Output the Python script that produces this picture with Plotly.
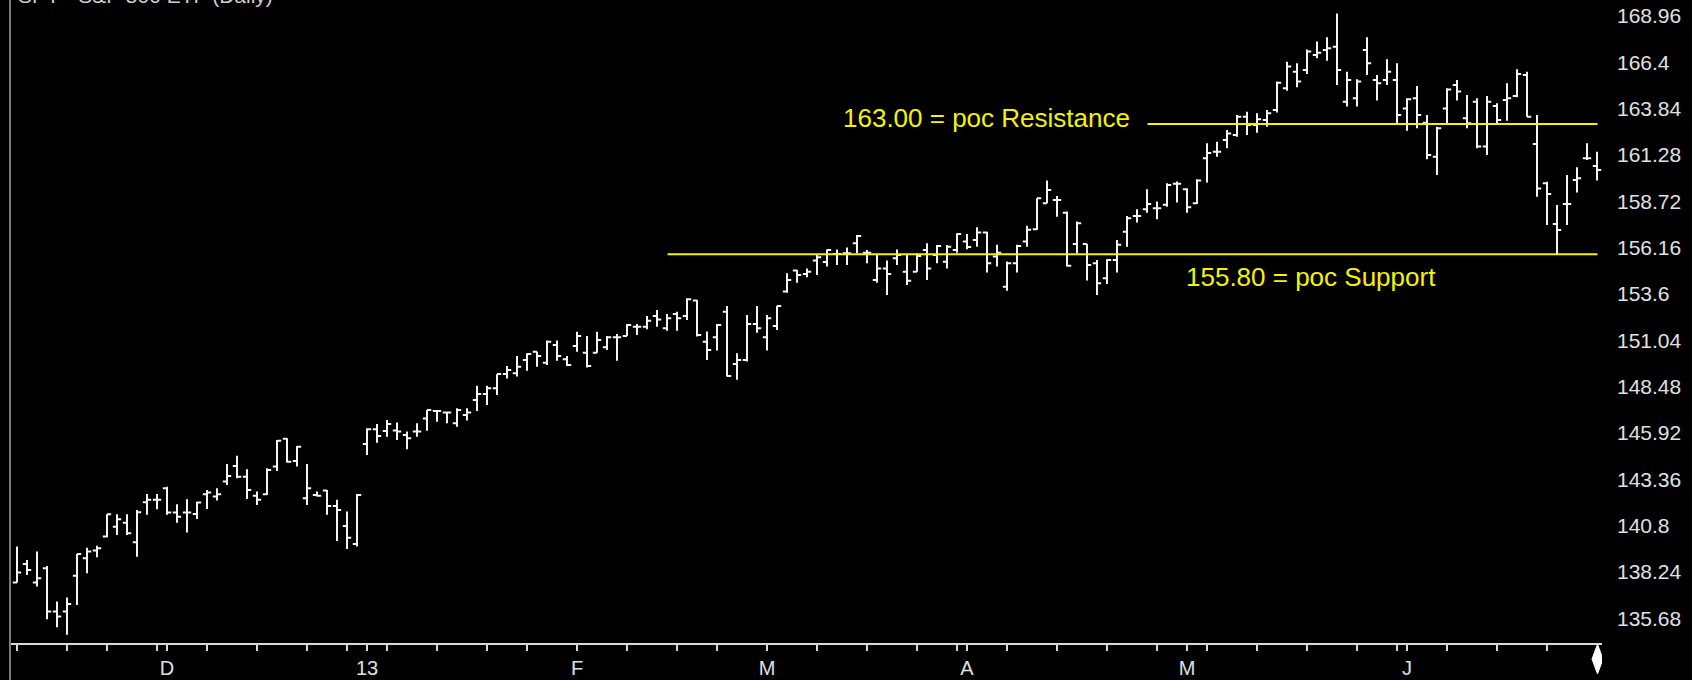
import plotly.graph_objects as go

# ---- data (x = trading-day index, Nov 9 2012 .. Jun 28 2013) ----
opens = [137.66, 138.69, 137.66, 138.45, 136.06, 136.06, 138.03, 139.00, 139.43, 140.20,
         140.75, 140.97, 139.89, 142.10, 142.23, 142.87, 141.53, 141.53, 141.45, 142.54,
         142.41, 143.24, 144.10, 143.51, 142.45, 142.54, 144.07, 145.61, 144.38, 142.32,
         142.50, 142.74, 141.89, 140.79, 139.79, 145.32, 146.13, 146.04, 146.06, 145.82,
         146.00, 146.73, 147.14, 147.05, 146.46, 146.92, 147.75, 148.08, 148.39, 149.18,
         149.22, 149.96, 150.42, 149.81, 150.79, 150.00, 150.73, 150.36, 150.36, 150.66,
         151.21, 151.28, 151.80, 151.80, 152.39, 151.71, 152.50, 152.39, 153.24, 150.97,
         151.21, 152.63, 149.74, 149.96, 151.95, 151.21, 151.84, 153.74, 154.90, 154.71,
         155.45, 155.37, 155.82, 155.85, 156.41, 155.89, 154.38, 155.02, 155.58, 154.84,
         154.84, 156.04, 155.76, 155.39, 156.04, 156.50, 156.59, 157.00, 155.67, 154.01,
         155.30, 156.50, 157.18, 158.62, 158.80, 158.10, 156.37, 156.37, 155.30, 154.47,
         155.49, 157.05, 157.92, 158.29, 158.34, 158.53, 159.69, 159.39, 158.62, 161.10,
         161.47, 162.12, 162.39, 163.40, 162.94, 163.22, 163.77, 164.97, 165.89, 165.98,
         166.81, 167.09, 167.27, 164.23, 164.42, 167.09, 165.43, 165.43, 165.43, 163.86,
         164.42, 163.07, 161.19, 163.86, 165.15, 163.31, 164.23, 161.75, 163.99, 164.33,
         164.55, 165.71, 161.89, 159.72, 157.47, 158.58, 159.91, 161.10, 160.68]
highs = [139.65, 138.91, 139.37, 138.58, 136.61, 136.83, 139.24, 139.59, 139.70, 141.43,
         141.43, 141.43, 141.67, 142.56, 142.56, 142.96, 141.99, 142.26, 142.13, 142.78,
         142.87, 144.21, 144.66, 143.92, 142.69, 143.97, 145.54, 145.63, 145.21, 144.21,
         142.69, 142.78, 142.23, 141.58, 142.56, 146.18, 146.42, 146.64, 146.50, 146.00,
         146.46, 147.20, 147.20, 147.10, 147.29, 147.29, 148.54, 148.54, 149.18, 149.63,
         150.18, 150.33, 150.42, 151.03, 151.03, 150.18, 151.52, 151.28, 151.52, 151.28,
         151.39, 151.95, 151.95, 152.39, 152.72, 152.50, 152.63, 153.37, 153.27, 151.53,
         151.95, 152.94, 150.33, 152.45, 152.94, 152.45, 152.94, 154.75, 154.93, 155.02,
         155.76, 156.07, 156.07, 156.17, 156.87, 156.04, 155.82, 155.45, 156.07, 155.82,
         155.85, 156.41, 156.31, 156.31, 156.96, 156.92, 157.29, 157.05, 156.32, 155.40,
         156.32, 157.37, 158.89, 159.87, 159.02, 158.16, 157.61, 156.37, 155.49, 155.52,
         156.59, 157.92, 158.29, 159.39, 158.71, 159.72, 159.82, 159.45, 159.94, 161.93,
         162.02, 162.67, 163.50, 163.68, 163.59, 163.77, 165.34, 166.44, 166.35, 167.12,
         167.55, 167.79, 169.11, 165.89, 165.47, 167.79, 165.71, 166.57, 166.35, 164.42,
         165.10, 163.50, 162.85, 164.97, 165.43, 164.60, 164.42, 164.55, 164.14, 165.25,
         166.02, 165.89, 163.50, 159.81, 158.52, 160.18, 160.61, 161.93, 161.47]
lows = [137.66, 138.08, 137.44, 135.63, 135.19, 134.77, 136.42, 138.17, 139.06, 140.16,
        140.29, 140.29, 139.09, 141.40, 141.71, 141.40, 140.97, 140.42, 141.17, 141.73,
        142.19, 143.05, 143.42, 142.28, 141.95, 142.50, 143.83, 144.29, 144.07, 141.95,
        142.41, 141.40, 139.96, 139.52, 139.65, 144.71, 145.39, 145.72, 145.54, 145.02,
        145.72, 146.05, 146.55, 146.46, 146.27, 146.61, 147.14, 147.47, 148.02, 148.94,
        149.04, 149.37, 149.59, 149.68, 149.92, 149.63, 150.42, 149.55, 150.36, 150.51,
        149.92, 151.28, 151.34, 151.65, 151.80, 151.58, 151.58, 152.17, 151.25, 149.96,
        150.48, 149.04, 148.86, 149.87, 151.47, 150.48, 151.62, 153.68, 154.23, 154.53,
        154.66, 155.12, 155.21, 155.21, 155.85, 155.30, 154.23, 153.55, 155.21, 154.10,
        154.84, 154.38, 155.30, 155.02, 155.89, 156.08, 156.22, 154.79, 155.12, 153.79,
        154.79, 156.22, 157.15, 158.62, 157.88, 155.12, 155.86, 154.35, 153.55, 154.16,
        154.79, 156.22, 157.55, 158.10, 157.73, 158.43, 158.66, 158.10, 158.58, 159.76,
        161.19, 161.66, 162.30, 162.39, 162.52, 162.85, 163.63, 164.84, 165.03, 165.76,
        166.63, 166.50, 165.15, 163.96, 163.96, 165.71, 164.29, 165.15, 163.00, 162.63,
        162.76, 161.05, 160.18, 163.00, 164.29, 162.76, 161.66, 161.29, 162.94, 163.18,
        164.47, 163.40, 158.98, 157.42, 155.82, 157.42, 159.21, 161.01, 159.87]
closes = [138.21, 138.36, 137.90, 136.06, 135.78, 136.48, 139.24, 139.37, 139.55, 141.43,
          141.16, 140.38, 141.54, 142.23, 142.23, 141.53, 141.30, 141.53, 142.08, 142.63,
          142.54, 143.55, 143.51, 142.78, 142.23, 143.88, 145.50, 144.34, 145.17, 142.87,
          142.45, 141.89, 141.67, 140.14, 142.50, 146.13, 145.76, 146.42, 146.00, 145.63,
          146.00, 147.20, 147.14, 147.05, 147.20, 147.05, 148.08, 148.39, 149.18, 149.41,
          149.59, 150.29, 150.18, 150.97, 150.18, 149.68, 151.28, 149.63, 151.06, 151.21,
          151.21, 151.89, 151.80, 152.13, 152.20, 152.26, 152.26, 153.31, 151.34, 150.51,
          151.89, 149.08, 149.96, 151.95, 151.71, 152.26, 152.94, 154.38, 154.66, 154.84,
          155.63, 156.04, 155.82, 155.85, 156.81, 155.89, 155.02, 154.71, 155.76, 154.34,
          155.71, 155.02, 156.26, 156.22, 156.92, 156.20, 157.00, 155.30, 155.89, 155.30,
          156.26, 157.15, 158.89, 159.35, 158.80, 155.16, 157.51, 155.21, 154.20, 155.49,
          156.32, 157.79, 157.92, 158.58, 158.34, 159.63, 159.69, 158.40, 159.87, 161.40,
          161.47, 162.48, 163.40, 162.94, 163.26, 163.59, 165.28, 166.17, 165.34, 167.00,
          166.94, 167.18, 165.98, 165.43, 165.34, 166.35, 165.25, 165.89, 163.50, 164.36,
          163.50, 161.29, 162.76, 164.91, 164.79, 163.04, 161.75, 164.23, 163.22, 164.42,
          165.76, 163.40, 159.44, 159.13, 157.14, 158.58, 160.00, 161.10, 160.46]
bar_index = list(range(len(opens)))

# weekly (Friday) ticks and month-start ticks, as bar indices
week_ticks = [0, 5, 9, 14, 19, 24, 29, 33, 37, 42, 47, 51, 56, 61, 66, 70, 75, 80, 85, 90,
              94, 99, 104, 109, 114, 119, 124, 129, 134, 138, 143, 148, 153]
month_ticks = [15, 35, 56, 75, 95, 117, 139]
month_labels = ["D", "13", "F", "M", "A", "M", "J"]

y_ticks = [135.68, 138.24, 140.8, 143.36, 145.92, 148.48, 151.04, 153.6,
           156.16, 158.72, 161.28, 163.84, 166.4, 168.96]
y_tick_labels = ["135.68", "138.24", "140.8", "143.36", "145.92", "148.48", "151.04", "153.6",
                 "156.16", "158.72", "161.28", "163.84", "166.4", "168.96"]

resistance = 163.00
support = 155.80
resistance_label = "163.00 = poc Resistance"
support_label = "155.80 = poc Support"
title_text = "SPY - S&P 500 ETF (Daily)"

# ---- figure ----
FONT = "Liberation Sans, Arial, sans-serif"
BAR = "#f4f4f4"
YEL = "#f4f400"

fig = go.Figure()
fig.add_trace(go.Ohlc(
    x=bar_index, open=opens, high=highs, low=lows, close=closes,
    increasing=dict(line=dict(color=BAR, width=2)),
    decreasing=dict(line=dict(color=BAR, width=2)),
    tickwidth=0.42, hoverinfo="skip", showlegend=False,
))

all_ticks = sorted(set(week_ticks) | set(month_ticks))
tick_text = [month_labels[month_ticks.index(t)] if t in month_ticks else "" for t in all_ticks]

# support / resistance lines
fig.add_shape(type="line", x0=113.05, x1=158.05, y0=resistance, y1=resistance,
              xref="x", yref="y", line=dict(color=YEL, width=2))
fig.add_shape(type="line", x0=65.05, x1=158.05, y0=support, y1=support,
              xref="x", yref="y", line=dict(color=YEL, width=2))
fig.add_annotation(x=82.35, y=163.33, xref="x", yref="y", text=resistance_label,
                   showarrow=False, xanchor="left", yanchor="middle",
                   font=dict(family=FONT, size=26, color=YEL))
fig.add_annotation(x=116.65, y=154.55, xref="x", yref="y", text=support_label,
                   showarrow=False, xanchor="left", yanchor="middle",
                   font=dict(family=FONT, size=26, color=YEL))

# header text, mostly cut off at the top of the window (as in the reference)
fig.add_annotation(x=0.004, y=1, xref="paper", yref="paper", text=title_text,
                   showarrow=False, xanchor="left", yanchor="bottom", yshift=-9,
                   font=dict(family=FONT, size=21, color="#d0d0d0"))

# left frame line (full height)
fig.add_shape(type="line", x0=0, x1=0, y0=-0.06, y1=1.0, xref="paper", yref="paper",
              line=dict(color="#7c7c70", width=2))
# diamond marker at the right end of the time axis
fig.add_shape(type="path", xref="x", yref="paper",
              path="M 158.05,-0.002 L 158.6,-0.025 L 158.05,-0.048 L 157.5,-0.025 Z",
              fillcolor="#ffffff", line=dict(color="#ffffff", width=1))

fig.update_layout(
    width=1692, height=680,
    margin=dict(l=10, r=90, t=0, b=37),
    paper_bgcolor="#000000", plot_bgcolor="#000000",
    font=dict(family=FONT, color="#e0e0e0"),
    xaxis=dict(
        range=[-0.7, 158.5], showgrid=False, zeroline=False,
        rangeslider=dict(visible=False),
        showline=True, linecolor="#d8d8d8", linewidth=2,
        tickmode="array", tickvals=all_ticks, ticktext=tick_text,
        ticks="outside", ticklen=6, tickwidth=1.5, tickcolor="#d8d8d8",
        tickfont=dict(family=FONT, size=20, color="#e0e0e0"),
        fixedrange=True,
    ),
    yaxis=dict(
        range=[134.32, 169.85], side="right", showgrid=False, zeroline=False,
        showline=False, tickmode="array", tickvals=y_ticks, ticktext=y_tick_labels,
        ticks="", ticklabelstandoff=14,
        tickfont=dict(family=FONT, size=21, color="#e0e0e0"),
        fixedrange=True,
    ),
)

fig.write_html(
    "out.html",
    config={"displayModeBar": False, "staticPlot": True},
    post_script="document.body.style.margin='0px';document.body.style.overflow='hidden';",
)
